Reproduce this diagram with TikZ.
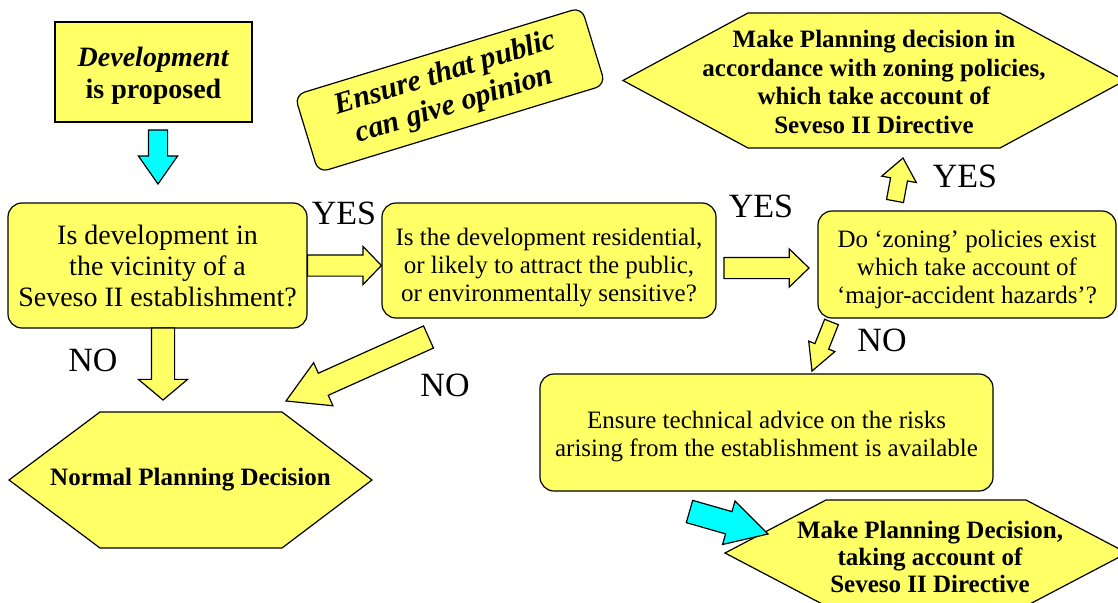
\documentclass[tikz,border=0pt]{standalone}
\usepackage{fontspec}
\IfFontExistsTF{LiberationSerif-Regular.ttf}
  {\setmainfont{LiberationSerif}[Extension=.ttf, UprightFont=*-Regular, BoldFont=*-Bold,
     ItalicFont=*-Italic, BoldItalicFont=*-BoldItalic]}
  {\setmainfont{Liberation Serif}}
\usepackage{tikz}
\usetikzlibrary{positioning,calc,shapes.arrows}

\definecolor{ylw}{RGB}{255,255,102}
\definecolor{cyanfill}{RGB}{0,255,255}

\newcommand{\bigtext}{\fontsize{28}{31}\selectfont}
\newcommand{\midtext}{\fontsize{25}{28}\selectfont}
\newcommand{\yesno}{\fontsize{34}{36}\selectfont}
\newcommand{\opintext}{\fontsize{30}{33}\selectfont}
\newcommand{\textdrop}[1]{\rule{0pt}{#1pt}}

\newcommand{\blockarrow}[3][]{%
  \path let \p1=($(#3)-(#2)$), \n1={veclen(\x1,\y1)} in
    (#2) -- node[fatarrow, pos=0, anchor=tail, minimum height=\n1, #1] {} (#3);}

\tikzset{
  plainbox/.style={draw=black, line width=1.2pt, fill=ylw, align=center, inner sep=2pt},
  roundbox/.style={plainbox, rounded corners=14pt},
  hexa/.style={draw=black, line width=1.2pt, fill=ylw},
  hextext/.style={align=center, inner sep=0pt, font=\fontsize{25}{28.5}\selectfont\bfseries},
  lbl/.style={inner sep=0pt, font=\yesno},
  fatarrow/.style={single arrow, draw=black, line width=1.2pt, fill=ylw,
    inner xsep=0pt, outer sep=0pt, sloped, allow upside down}
}

\begin{document}
\begin{tikzpicture}[x=1pt,y=-1pt]
                \useasboundingbox (0,0) rectangle (1118,602);
                \clip (0,0) rectangle (1118,602);

                \node[plainbox, minimum width=197, minimum height=100, font=\fontsize{28}{32}\selectfont] (dev) at (153.5,72)
                    {\textdrop{26}\textbf{\textit{Development}}\\ \textbf{is proposed}};

                \node[roundbox, rounded corners=10pt, rotate=17, minimum width=300, minimum height=81,
                      font=\opintext\bfseries\itshape] (opinion) at (450,90)
                    {Ensure that public\\ can give opinion};

                \node[roundbox, minimum width=299, minimum height=125, font=\bigtext] (vicinity) at (157.5,265.5)
                    {Is development in\\ the vicinity of a\\ Seveso II establishment?};
                \node[roundbox, minimum width=334, minimum height=115, font=\midtext] (resid) at (549,260.5)
                    {\textdrop{31}Is the development residential,\\ or likely to attract the public,\\ or environmentally sensitive?};
                \node[roundbox, minimum width=298, minimum height=107, font=\midtext] (zoning) at (967,264.5)
                    {\textdrop{28}Do `zoning' policies exist\\ which take account of\\ `major-accident hazards'?};
                \node[roundbox, minimum width=453, minimum height=117, font=\midtext] (advice) at (766.5,432.5)
                    {\textdrop{26}Ensure technical advice on the risks\\ arising from the establishment is available};

                \draw[hexa] (623,80.5) -- (748,13) -- (1000,13) -- (1125,80.5) -- (1000,148) -- (748,148) -- cycle;
                \node[hextext] (zonedec) at (874,82)
                    {Make Planning decision in\\ accordance with zoning policies,\\ which take account of\\ Seveso II Directive};

                \draw[hexa] (9,480) -- (100,412) -- (282,412) -- (372,480) -- (282,548) -- (100,548) -- cycle;
                \node[hextext] (normal) at (190.5,480) {Normal Planning Decision};

                \draw[hexa] (725,553) -- (826,500) -- (1026,500) -- (1127,553) -- (1026,606) -- (826,606) -- cycle;
                \node[hextext, font=\fontsize{25}{27}\selectfont\bfseries] (seveso) at (930,557)
                    {Make Planning Decision,\\ taking account of\\ Seveso II Directive};

                \node[lbl] (yes1) at (344,213) {YES};
                \node[lbl] (yes2) at (761,206) {YES};
                \node[lbl] (yes3) at (965,176) {YES};
                \node[lbl] (no1)  at (93,360)  {NO};
                \node[lbl] (no2)  at (445,385) {NO};
                \node[lbl] (no3)  at (882,340) {NO};

                \coordinate (a1) at (158,130);
                \coordinate (b1) at (158,184);
                \coordinate (a2) at (vicinity.east);
                \coordinate (b2) at (resid.west |- vicinity.east);
                \coordinate (a3) at (724,268);
                \coordinate (b3) at (809,268);
                \coordinate (a4) at (895,201);
                \coordinate (b4) at (903,158);
                \coordinate (a5) at (163,328);
                \coordinate (b5) at (163,400);
                \coordinate (a6) at (428.5,337);
                \coordinate (b6) at (286,401);
                \coordinate (a7) at (831.5,322);
                \coordinate (b7) at (812,371);
                \coordinate (a8) at (689.5,511.5);
                \coordinate (b8) at (768,534);

                \blockarrow[fill=cyanfill, inner ysep=9, single arrow head extend=10, single arrow tip angle=70]{a1}{b1}
                \blockarrow[inner ysep=10, single arrow head extend=8.5, single arrow tip angle=92]{a2}{b2}
                \blockarrow[inner ysep=10, single arrow head extend=8.5, single arrow tip angle=88]{a3}{b3}
                \blockarrow[inner ysep=8, single arrow head extend=9, single arrow tip angle=78]{a4}{b4}
                \blockarrow[inner ysep=11, single arrow head extend=13, single arrow tip angle=100]{a5}{b5}
                \blockarrow[inner ysep=11.5, single arrow head extend=11.5, single arrow tip angle=60]{a6}{b6}
                \blockarrow[inner ysep=6.8, single arrow head extend=6.7, single arrow tip angle=56]{a7}{b7}
                \blockarrow[fill=cyanfill, inner ysep=11, single arrow head extend=11, single arrow tip angle=58]{a8}{b8}
            \end{tikzpicture}
\end{document}
